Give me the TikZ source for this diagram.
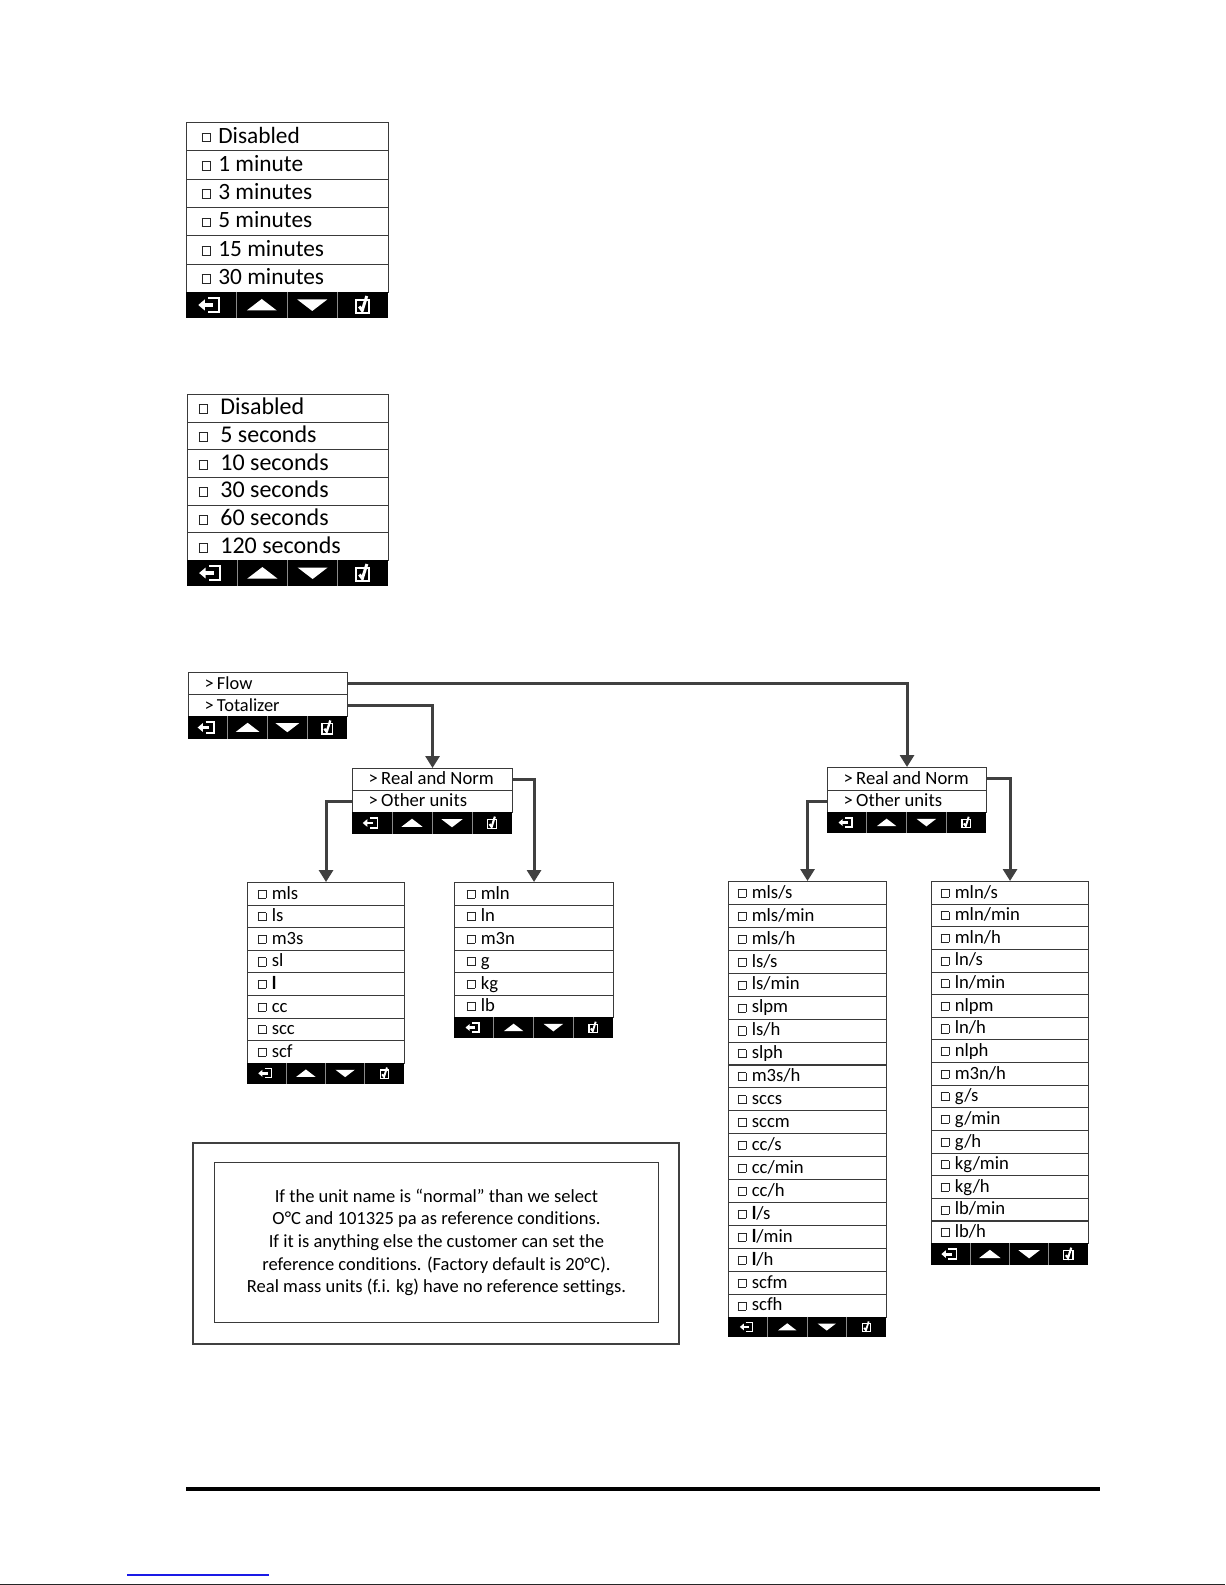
\documentclass[tikz,border=0pt]{standalone}
\usepackage{fontspec}
\setmainfont[Ligatures=NoCommon]{Carlito}
\usetikzlibrary{arrows.meta}
\definecolor{linegray}{HTML}{404040}
\definecolor{rowline}{HTML}{3A3A3A}
\definecolor{divgray}{HTML}{8A8A8A}
\definecolor{linkblue}{HTML}{1A1AE6}

\def\cbsize{0.36em}
\newcommand\chk{\raisebox{0.07em}{\color{black!85}\setlength{\fboxrule}{0.45pt}\setlength{\fboxsep}{0pt}\fbox{\rule{0pt}{\cbsize}\rule{\cbsize}{0pt}}}}
\def\gapx{0.3em}
\def\padx{10}
\def\bl{0.6}
\newcommand\cb[1]{\chk\hspace{\gapx}#1}
\newcommand\gt[1]{>\hspace{\gapx}#1}

\tikzset{
  row/.style={draw=rowline, line width=0.8pt, rectangle, anchor=north west, inner sep=0pt,
    text depth=0pt},
  footbar/.style={fill=black, draw=none, rectangle, inner sep=0pt, anchor=north west},
  divider/.style={draw=divgray, line width=0.75pt},
  conn/.style={draw=linegray, line width=2.2pt, line join=miter,
    -{Triangle[width=10.5pt,length=9pt]}},
}

% footer: name, x1, x2, y1, y2 (px)
\newcommand\footer[5]{%
  \pgfmathsetmacro\fxa{#2}%
  \pgfmathsetmacro\fxb{#3}%
  \pgfmathsetmacro\fya{#4}%
  \pgfmathsetmacro\fyb{#5}%
  \pgfmathsetmacro\fw{(\fxb-\fxa)*0.75}%
  \pgfmathsetmacro\fh{(\fyb-\fya)*0.75}%
  \pgfmathsetmacro\cw{(\fxb-\fxa)/4}%
  \pgfmathsetmacro\cy{(\fya+\fyb)/2}%
  \pgfmathsetmacro\icsc{(\fyb-\fya-12)/14}%
  \node[footbar, minimum width=\fw pt, minimum height=\fh pt] (#1) at (\fxa,\fya) {};%
  \foreach \k in {1,2,3} {\draw[divider] ({\fxa+\k*\cw},\fya) -- ({\fxa+\k*\cw},\fyb);}%
  \begin{scope}[shift={({\fxa+0.5*\cw},\cy)}, scale=\icsc]
    \fill[white] (-13,0) -- (-6.5,-5.5) -- (-6.5,5.5) -- cycle;
    \fill[white] (-7,-2) rectangle (2,2);
    \draw[white, line width={1.6*\icsc pt}] (-3,-7) -- (8,-7) -- (8,7) -- (-3,7);
  \end{scope}
  \begin{scope}[shift={({\fxa+1.5*\cw},\cy)}, scale=\icsc]
    \fill[white] (-15,5.5) -- (15,5.5) -- (0,-6) -- cycle;
  \end{scope}
  \begin{scope}[shift={({\fxa+2.5*\cw},\cy)}, scale=\icsc]
    \fill[white] (-15,-5.5) -- (15,-5.5) -- (0,6) -- cycle;
  \end{scope}
  \begin{scope}[shift={({\fxa+3.5*\cw},\cy)}, scale=\icsc]
    \draw[white, line width={1.4*\icsc pt}] (-6.5,-5) rectangle (6.5,8);
    \draw[white, line width={2.2*\icsc pt}] (-3.5,1.5) -- (-0.5,5.5) -- (4,-9);
  \end{scope}
}

% menu: name, x, y, w, row h, font size, footer h, items
\newcommand\menu[8]{%
  \pgfmathsetmacro\mw{#4*0.75}%
  \pgfmathsetmacro\mh{#5*0.75}%
  \pgfmathsetmacro\tw{(#4-2*\padx)*0.75}%
  \pgfmathsetmacro\th{2*\bl*#6}%
  \foreach \itm [count=\i] in {#8} {%
    \node[row, minimum width=\mw pt, minimum height=\mh pt, text height=\th pt,
      font=\fontsize{#6}{#6}\selectfont]
      (#1-\i) at ({#2}, {#3+(\i-1)*#5}) {\makebox[\tw pt][l]{\itm}};%
    \xdef\nrows{\i}%
  }%
  \pgfmathsetmacro\fyy{#3+\nrows*#5}%
  \footer{#1-f}{#2}{#2+#4}{\fyy}{\fyy+#7}%
}

\begin{document}
\begin{tikzpicture}[x=0.75pt, y=-0.75pt]
\useasboundingbox (0,0) rectangle (1225,1585);
\fill[white] (0,0) rectangle (1225,1585);

% minutes menu
\def\padx{15}\def\gapx{0.33em}\def\bl{0.27}\def\cbsize{0.34em}
\menu{A}{186}{122}{202}{28.33}{17.5}{26}{\cb{Disabled},\cb{1 minute},\cb{3 minutes},\cb{5 minutes},\cb{15 minutes},\cb{30 minutes}}

% seconds menu
\def\padx{11}\def\gapx{0.52em}
\menu{B}{187}{394}{201}{27.67}{18}{26}{\cb{Disabled},\cb{5 seconds},\cb{10 seconds},\cb{30 seconds},\cb{60 seconds},\cb{120 seconds}}

% Flow / Totalizer
\def\padx{16}\def\gapx{0.18em}\def\bl{0.31}
\menu{fl}{188}{672}{159}{22}{13.8}{23}{\gt{Flow},\gt{Totalizer}}

% Real and Norm menus
\def\bl{0.29}
\menu{rnL}{352}{768}{160}{22}{14}{22}{\gt{Real and Norm},\gt{Other units}}
\menu{rnR}{827}{767}{159}{22.5}{14}{21}{\gt{Real and Norm},\gt{Other units}}

% unit lists
\def\padx{10}\def\gapx{0.3em}\def\bl{0.28}\def\cbsize{0.4em}
\menu{L1}{247}{882}{157}{22.6}{14}{21}{\cb{mls},\cb{ls},\cb{m3s},\cb{sl},\cb{\textbf{l}},\cb{cc},\cb{scc},\cb{scf}}
\def\padx{12}
\menu{L2}{454}{882}{159}{22.5}{14}{21}{\cb{mln},\cb{ln},\cb{m3n},\cb{g},\cb{kg},\cb{lb}}
\def\padx{9}
\menu{R1}{728}{881}{158}{22.93}{14}{20.5}{\cb{mls/s},\cb{mls/min},\cb{mls/h},\cb{ls/s},\cb{ls/min},\cb{slpm},\cb{ls/h},\cb{slph},\cb{m3s/h},\cb{sccs},\cb{sccm},\cb{cc/s},\cb{cc/min},\cb{cc/h},\cb{\textbf{l}/s},\cb{\textbf{l}/min},\cb{\textbf{l}/h},\cb{scfm},\cb{scfh}}
\menu{R2}{931}{881}{157}{22.63}{14}{22}{\cb{mln/s},\cb{mln/min},\cb{mln/h},\cb{ln/s},\cb{ln/min},\cb{nlpm},\cb{ln/h},\cb{nlph},\cb{m3n/h},\cb{g/s},\cb{g/min},\cb{g/h},\cb{kg/min},\cb{kg/h},\cb{lb/min},\cb{lb/h}}

% connectors
\draw[conn] (fl-1.east) -| (rnR-1.north);
\draw[conn] (fl-2.east) -| (rnL-1.north);
\draw[conn] (rnL-1.east) -| (L2-1.north);
\draw[conn] (rnL-2.west) -| (L1-1.north);
\draw[conn] (rnR-1.east) -| (R2-1.north);
\draw[conn] (rnR-2.west) -| (R1-1.north);

% note
\node[draw=linegray, line width=1.8pt, rectangle, inner sep=0pt, anchor=north west,
  minimum width=364.5pt, minimum height=150.75pt] (note) at (192,1142) {};
\node[draw=rowline, line width=0.75pt, rectangle, inner sep=0pt, anchor=north west,
  minimum width=333pt, minimum height=120pt, align=center,
  font=\fontsize{13.9}{17}\selectfont] (notein) at (214,1162)
  {If the unit name is “normal” than we select\\
   O°C and 101325 pa as reference conditions.\\
   If it is anything else the customer can set the\\
   reference conditions. (Factory default is 20°C).\\
   Real mass units (f.i. kg) have no reference settings.};

% page elements
\draw[black, line width=2.4pt] (186,1489) -- (1100,1489);
\draw[linkblue, line width=0.8pt] (127,1575) -- (269,1575);
\draw[black!85, line width=0.8pt] (0,1584.4) -- (1225,1584.4);
\end{tikzpicture}
\end{document}
